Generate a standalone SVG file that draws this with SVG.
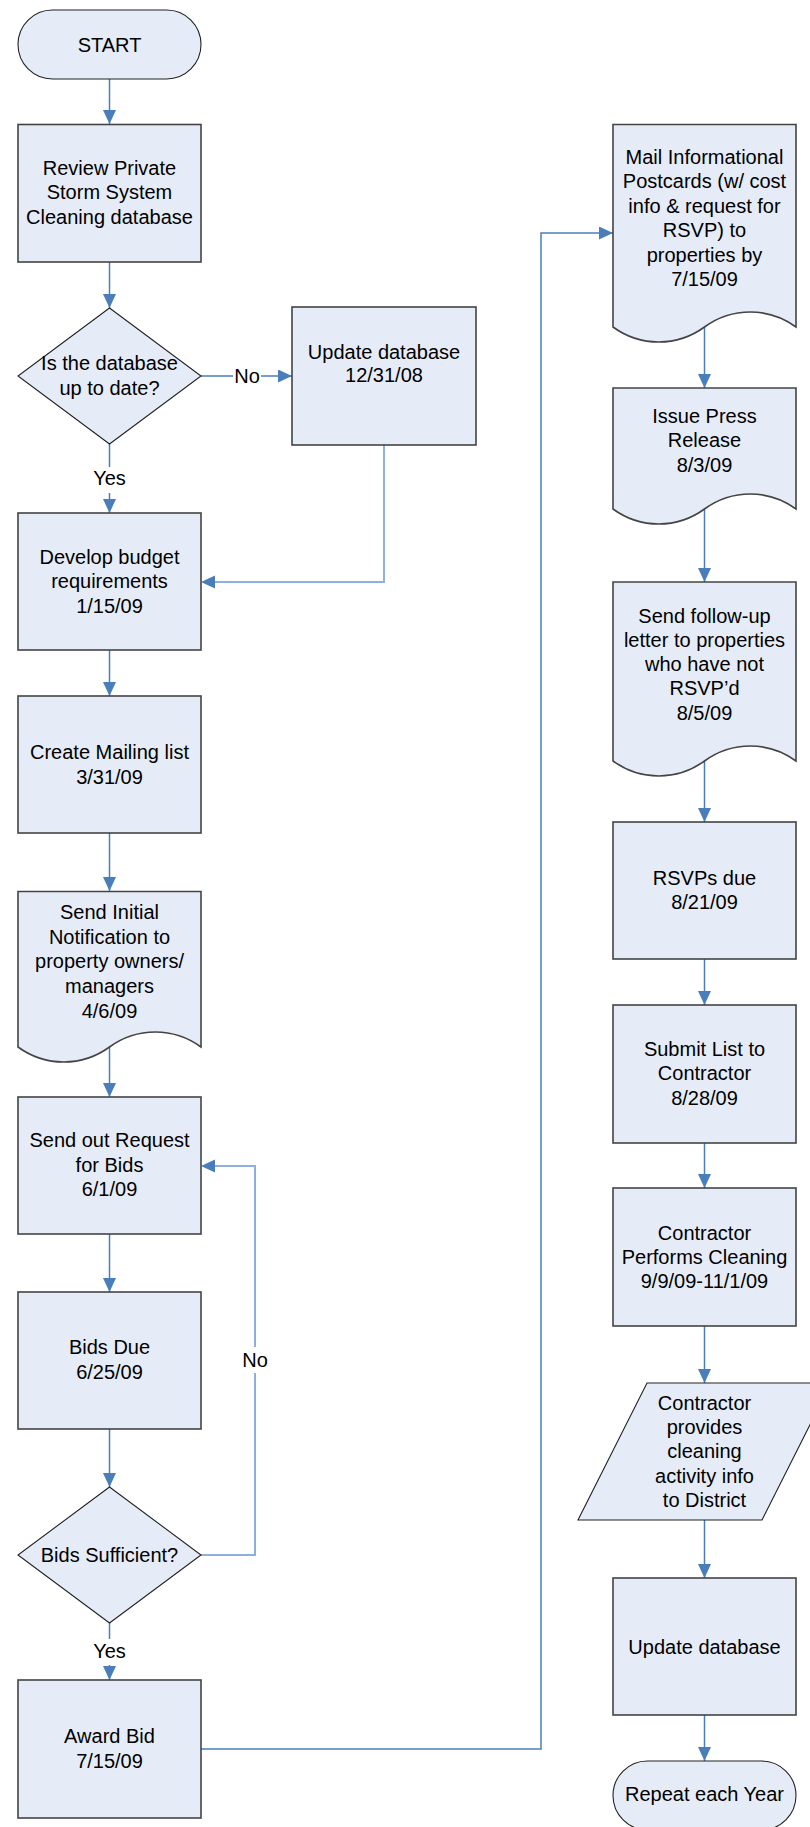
<svg xmlns="http://www.w3.org/2000/svg" width="810" height="1827" viewBox="0 0 810 1827">
  <defs>
    <marker id="arrow" markerUnits="userSpaceOnUse" markerWidth="14" markerHeight="13" refX="14" refY="6.5" orient="auto">
      <path d="M0,0 L14,6.5 L0,13 z" fill="#4a7ebb"/>
    </marker>
    <style>
      .box { fill: #e6ecf7; stroke: #444; stroke-width: 1.6; }
      .thin { fill: #e6ecf7; stroke: #222; stroke-width: 1.1; }
      .lbl { font-family: "Liberation Sans", Arial, sans-serif; font-size: 20px; fill: #000; text-anchor: middle; }
      .con { fill: none; stroke: #4a7ebb; stroke-width: 1.5; }
      .back { fill: none; stroke: #8fb0dc; stroke-width: 2; }
    </style>
  </defs>
  <rect width="810" height="1827" fill="#fff"/>

  <!-- connectors -->
  <g id="connectors">
    <path class="con" d="M109.5,79 V124" marker-end="url(#arrow)"/>
    <path class="con" d="M109.5,262 V308" marker-end="url(#arrow)"/>
    <path class="con" d="M201,376 H233 M261,376 H292" marker-end="url(#arrow)"/>
    <path class="con" d="M109.5,444 V467 M109.5,493 V513" marker-end="url(#arrow)"/>
    <path class="back" d="M384,445 V582 H214"/>
    <path d="M201,582 L215,575.5 L215,588.5 z" fill="#4a7ebb"/>
    <path class="con" d="M109.5,650 V696" marker-end="url(#arrow)"/>
    <path class="con" d="M109.5,833 V891" marker-end="url(#arrow)"/>
    <path class="con" d="M109.5,1047 V1097" marker-end="url(#arrow)"/>
    <path class="con" d="M109.5,1234 V1292" marker-end="url(#arrow)"/>
    <path class="con" d="M109.5,1429 V1487" marker-end="url(#arrow)"/>
    <path class="back" d="M201,1555 H255 V1373 M255,1347 V1166 H214"/>
    <path d="M201,1166 L215,1159.5 L215,1172.5 z" fill="#4a7ebb"/>
    <path class="con" d="M109.5,1623 V1639 M109.5,1665 V1680" marker-end="url(#arrow)"/>
    <path class="con" d="M201,1749 H541 V233 H613" marker-end="url(#arrow)"/>
    <path class="con" d="M704.5,327 V388" marker-end="url(#arrow)"/>
    <path class="con" d="M704.5,509 V582" marker-end="url(#arrow)"/>
    <path class="con" d="M704.5,761 V822" marker-end="url(#arrow)"/>
    <path class="con" d="M704.5,959 V1005" marker-end="url(#arrow)"/>
    <path class="con" d="M704.5,1143 V1188" marker-end="url(#arrow)"/>
    <path class="con" d="M704.5,1326 V1383" marker-end="url(#arrow)"/>
    <path class="con" d="M704.5,1520 V1578" marker-end="url(#arrow)"/>
    <path class="con" d="M704.5,1715 V1761" marker-end="url(#arrow)"/>
    <text class="lbl" x="247" y="383">No</text>
    <text class="lbl" x="109.5" y="485">Yes</text>
    <text class="lbl" x="255" y="1367">No</text>
    <text class="lbl" x="109.5" y="1658">Yes</text>
  </g>

  <!-- left column -->
  <g id="start">
    <rect class="thin" x="18" y="10" width="183" height="69" rx="34.5"/>
    <text class="lbl" x="109.5" y="51.5">START</text>
  </g>
  <g id="review">
    <rect class="box" x="18" y="124.5" width="183" height="137.5"/>
    <text class="lbl" x="109.5" y="175">Review Private</text>
    <text class="lbl" x="109.5" y="199">Storm System</text>
    <text class="lbl" x="109.5" y="224">Cleaning database</text>
  </g>
  <g id="uptodate">
    <polygon class="thin" points="109.5,308 201,376 109.5,444 18,376"/>
    <text class="lbl" x="109.5" y="370">Is the database</text>
    <text class="lbl" x="109.5" y="395">up to date?</text>
  </g>
  <g id="update-db-1">
    <rect class="box" x="292" y="307" width="184" height="138"/>
    <text class="lbl" x="384" y="359">Update database</text>
    <text class="lbl" x="384" y="382">12/31/08</text>
  </g>
  <g id="budget">
    <rect class="box" x="18" y="513" width="183" height="137"/>
    <text class="lbl" x="109.5" y="564">Develop budget</text>
    <text class="lbl" x="109.5" y="588">requirements</text>
    <text class="lbl" x="109.5" y="613">1/15/09</text>
  </g>
  <g id="mailing-list">
    <rect class="box" x="18" y="696" width="183" height="137"/>
    <text class="lbl" x="109.5" y="759">Create Mailing list</text>
    <text class="lbl" x="109.5" y="784">3/31/09</text>
  </g>
  <g id="initial-notification">
    <path class="box" d="M18,891.5 H201 V1047 C173.5,1027 137,1027 109.5,1047 C82,1067 45.5,1067 18,1047 Z"/>
    <text class="lbl" x="109.5" y="919">Send Initial</text>
    <text class="lbl" x="109.5" y="943.5">Notification to</text>
    <text class="lbl" x="109.5" y="968">property owners/</text>
    <text class="lbl" x="109.5" y="993">managers</text>
    <text class="lbl" x="109.5" y="1018">4/6/09</text>
  </g>
  <g id="request-bids">
    <rect class="box" x="18" y="1097" width="183" height="137"/>
    <text class="lbl" x="109.5" y="1147">Send out Request</text>
    <text class="lbl" x="109.5" y="1172">for Bids</text>
    <text class="lbl" x="109.5" y="1196">6/1/09</text>
  </g>
  <g id="bids-due">
    <rect class="box" x="18" y="1292" width="183" height="137"/>
    <text class="lbl" x="109.5" y="1354">Bids Due</text>
    <text class="lbl" x="109.5" y="1379">6/25/09</text>
  </g>
  <g id="bids-sufficient">
    <polygon class="thin" points="109.5,1487 201,1555 109.5,1623 18,1555"/>
    <text class="lbl" x="109.5" y="1562">Bids Sufficient?</text>
  </g>
  <g id="award-bid">
    <rect class="box" x="18" y="1680" width="183" height="138"/>
    <text class="lbl" x="109.5" y="1743">Award Bid</text>
    <text class="lbl" x="109.5" y="1768">7/15/09</text>
  </g>

  <!-- right column -->
  <g id="postcards">
    <path class="box" d="M613,124.5 H796 V327 C768.5,307 732,307 704.5,327 C677,347 640.5,347 613,327 Z"/>
    <text class="lbl" x="704.5" y="164">Mail Informational</text>
    <text class="lbl" x="704.5" y="188">Postcards (w/ cost</text>
    <text class="lbl" x="704.5" y="212.5">info &amp; request for</text>
    <text class="lbl" x="704.5" y="237">RSVP) to</text>
    <text class="lbl" x="704.5" y="261.5">properties by</text>
    <text class="lbl" x="704.5" y="286">7/15/09</text>
  </g>
  <g id="press-release">
    <path class="box" d="M613,388 H796 V509 C768.5,489 732,489 704.5,509 C677,529 640.5,529 613,509 Z"/>
    <text class="lbl" x="704.5" y="423">Issue Press</text>
    <text class="lbl" x="704.5" y="447">Release</text>
    <text class="lbl" x="704.5" y="472">8/3/09</text>
  </g>
  <g id="follow-up">
    <path class="box" d="M613,582 H796 V761 C768.5,741 732,741 704.5,761 C677,781 640.5,781 613,761 Z"/>
    <text class="lbl" x="704.5" y="623">Send follow-up</text>
    <text class="lbl" x="704.5" y="647">letter to properties</text>
    <text class="lbl" x="704.5" y="671">who have not</text>
    <text class="lbl" x="704.5" y="695">RSVP’d</text>
    <text class="lbl" x="704.5" y="720">8/5/09</text>
  </g>
  <g id="rsvps-due">
    <rect class="box" x="613" y="822" width="183" height="137"/>
    <text class="lbl" x="704.5" y="884.5">RSVPs due</text>
    <text class="lbl" x="704.5" y="909">8/21/09</text>
  </g>
  <g id="submit-list">
    <rect class="box" x="613" y="1005" width="183" height="138"/>
    <text class="lbl" x="704.5" y="1056">Submit List to</text>
    <text class="lbl" x="704.5" y="1080">Contractor</text>
    <text class="lbl" x="704.5" y="1105">8/28/09</text>
  </g>
  <g id="cleaning">
    <rect class="box" x="613" y="1188" width="183" height="138"/>
    <text class="lbl" x="704.5" y="1240">Contractor</text>
    <text class="lbl" x="704.5" y="1264">Performs Cleaning</text>
    <text class="lbl" x="704.5" y="1288">9/9/09-11/1/09</text>
  </g>
  <g id="activity-info">
    <polygon class="thin" points="647,1383 831,1383 762,1520 578,1520"/>
    <text class="lbl" x="704.5" y="1410">Contractor</text>
    <text class="lbl" x="704.5" y="1434">provides</text>
    <text class="lbl" x="704.5" y="1458">cleaning</text>
    <text class="lbl" x="704.5" y="1483">activity info</text>
    <text class="lbl" x="704.5" y="1507">to District</text>
  </g>
  <g id="update-db-2">
    <rect class="box" x="613" y="1578" width="183" height="137"/>
    <text class="lbl" x="704.5" y="1654">Update database</text>
  </g>
  <g id="repeat">
    <rect class="thin" x="613" y="1761" width="183" height="69" rx="34.5"/>
    <text class="lbl" x="704.5" y="1801">Repeat each Year</text>
  </g>
</svg>
